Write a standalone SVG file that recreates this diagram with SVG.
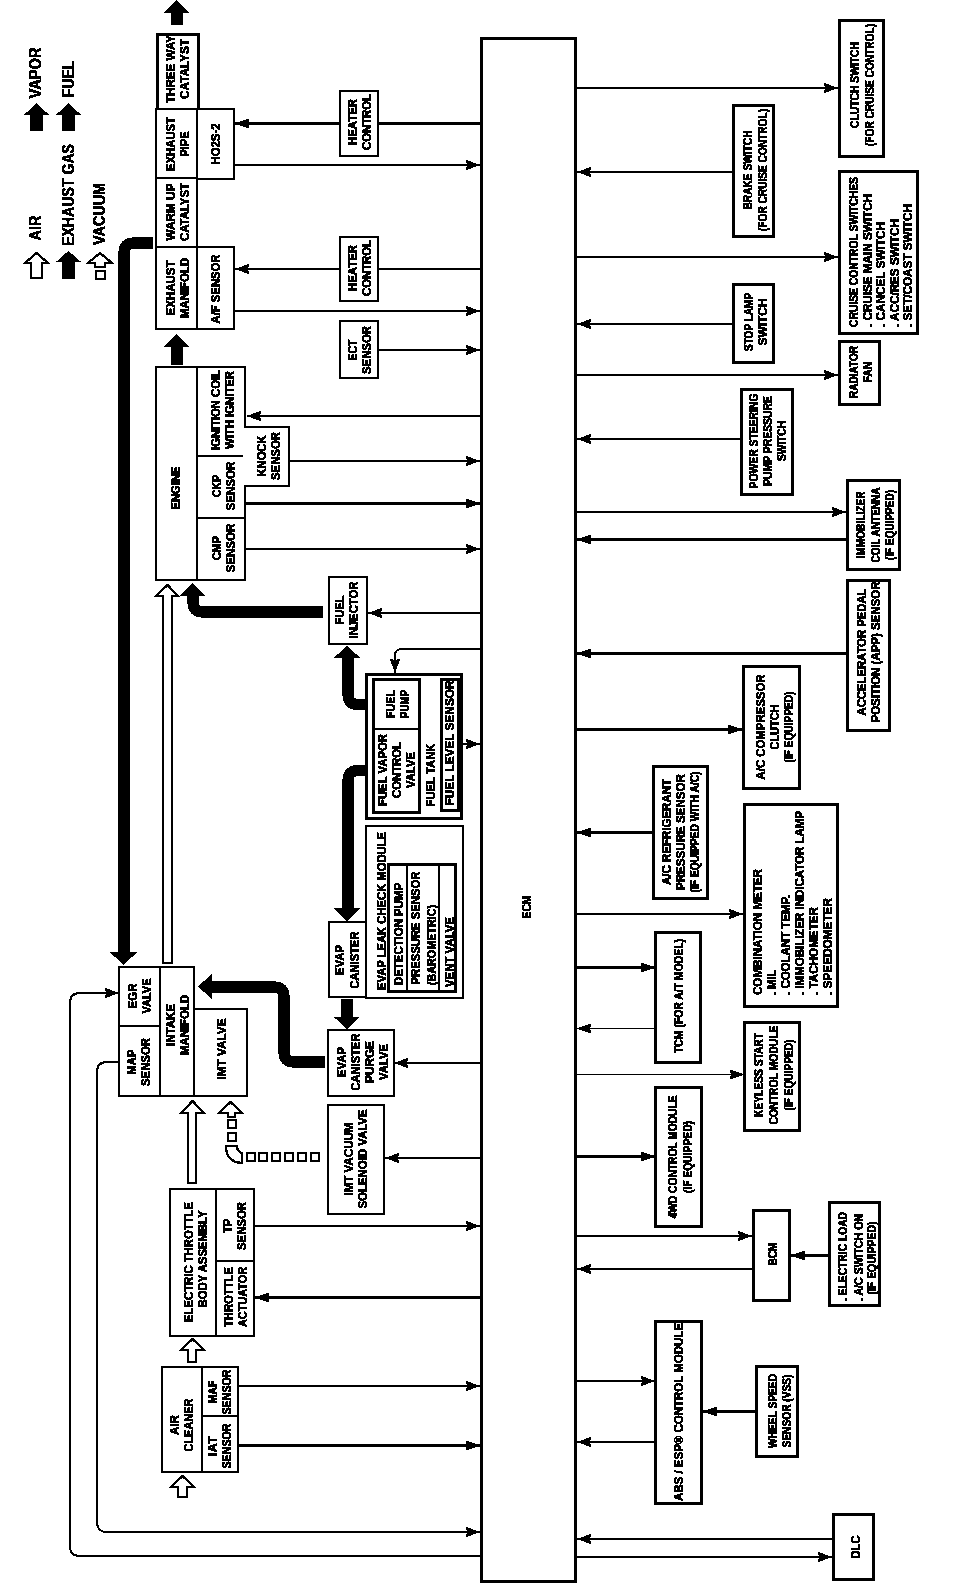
<svg xmlns="http://www.w3.org/2000/svg" width="960" height="1594" viewBox="0 0 960 1594">
<style>
text{font-family:"Liberation Sans",Arial,sans-serif;font-weight:700;font-size:12.5px;fill:#000;stroke:#000;stroke-width:.35px;text-anchor:middle}
.s{text-anchor:start}
.lg{font-size:16px}
.b{fill:#fff;stroke:#000;stroke-width:2;shape-rendering:crispEdges}
.b3{fill:#fff;stroke:#000;stroke-width:3;shape-rendering:crispEdges}
.d{fill:none;stroke:#000;stroke-width:1.5;shape-rendering:crispEdges}
.l1{fill:none;stroke:#000;stroke-width:1;shape-rendering:crispEdges}
.l2{fill:none;stroke:#000;stroke-width:2;shape-rendering:crispEdges}
.l3{fill:none;stroke:#000;stroke-width:3;shape-rendering:crispEdges}
.p{fill:none;stroke:#000;stroke-width:11}
.k{fill:#000;stroke:none}
.w{fill:#fff;stroke:#000;stroke-width:2}
.v{fill:#fff;stroke:#000;stroke-width:2}
</style>
<defs>
<marker id="a" markerUnits="userSpaceOnUse" markerWidth="14" markerHeight="11" refX="14" refY="5.500" orient="auto"><path d="M0 .5L14 5.500L0 10.500L1 5.500Z" fill="#000"/></marker>
<filter id="bw" x="0" y="0" width="100%" height="100%" color-interpolation-filters="sRGB"><feComponentTransfer><feFuncR type="discrete" tableValues="0 0 1"/><feFuncG type="discrete" tableValues="0 0 1"/><feFuncB type="discrete" tableValues="0 0 1"/></feComponentTransfer></filter>
</defs>
<g filter="url(#bw)">
<rect width="960" height="1594" fill="#fff"/>

<g id="connectors">
<path class="l3" marker-end="url(#a)" d="M480 123.500H235"/>
<path class="l2" marker-end="url(#a)" d="M234 165H480"/>
<path class="l2" marker-end="url(#a)" d="M480 269H235"/>
<path class="l2" marker-end="url(#a)" d="M234 311H480"/>
<path class="l2" marker-end="url(#a)" d="M378 350H480"/>
<path class="l2" marker-end="url(#a)" d="M480 416H247"/>
<path class="l2" marker-end="url(#a)" d="M290 461H480"/>
<path class="l3" marker-end="url(#a)" d="M245 503.500H480"/>
<path class="l2" marker-end="url(#a)" d="M245 549H480"/>
<path class="l2" marker-end="url(#a)" d="M480 613H368"/>
<path class="l2" marker-end="url(#a)" d="M480 649H402Q395 649 395 656V673"/>
<path class="l2" marker-end="url(#a)" d="M459 744H480"/>
<path class="l2" marker-end="url(#a)" d="M480 1063H394"/>
<path class="l2" marker-end="url(#a)" d="M480 1158H385"/>
<path class="l2" marker-end="url(#a)" d="M254 1226H480"/>
<path class="l3" marker-end="url(#a)" d="M480 1297.500H255"/>
<path class="l2" marker-end="url(#a)" d="M238 1386H480"/>
<path class="l3" marker-end="url(#a)" d="M238 1445.500H480"/>
<path class="l2" marker-end="url(#a)" d="M119 1062H107Q97 1062 97 1072V1522Q97 1532 107 1532H480"/>
<path class="l2" marker-end="url(#a)" d="M480 1556H80Q70 1556 70 1546V1003Q70 993 80 993H119"/>
<path class="l2" marker-end="url(#a)" d="M576 88H838"/>
<path class="l2" marker-end="url(#a)" d="M733 172H577"/>
<path class="l2" marker-end="url(#a)" d="M576 257H838"/>
<path class="l2" marker-end="url(#a)" d="M733 324H577"/>
<path class="l2" marker-end="url(#a)" d="M576 375H838"/>
<path class="l2" marker-end="url(#a)" d="M741 439H577"/>
<path class="l2" marker-end="url(#a)" d="M576 512H846"/>
<path class="l3" marker-end="url(#a)" d="M847 539.500H577"/>
<path class="l3" marker-end="url(#a)" d="M847 653.500H577"/>
<path class="l3" marker-end="url(#a)" d="M576 729.500H742"/>
<path class="l3" marker-end="url(#a)" d="M653 832.500H577"/>
<path class="l2" marker-end="url(#a)" d="M576 914H743"/>
<path class="l3" marker-end="url(#a)" d="M576 967.500H655"/>
<path class="l1" marker-end="url(#a)" d="M656 1028.500H577"/>
<path class="l1" marker-end="url(#a)" d="M576 1074.500H744"/>
<path class="l3" marker-end="url(#a)" d="M576 1156.500H655"/>
<path class="l2" marker-end="url(#a)" d="M576 1236H752"/>
<path class="l2" marker-end="url(#a)" d="M753 1269H577"/>
<path class="l3" marker-end="url(#a)" d="M829 1255.500H791"/>
<path class="l2" marker-end="url(#a)" d="M576 1381H655"/>
<path class="l2" marker-end="url(#a)" d="M655 1442H577"/>
<path class="l3" marker-end="url(#a)" d="M756 1411.500H703"/>
<path class="l2" marker-end="url(#a)" d="M833 1539H577"/>
<path class="l2" marker-end="url(#a)" d="M576 1557H832"/>
<path class="p" d="M153 243H134Q124 243 124 253V953"/>
<polygon class="k" points="110,952 137,952 123.500,965"/>
<path class="p" d="M323 612H203Q193 612 193 602V595"/>
<polygon class="k" points="180,596 205,596 192.500,583"/>
<path class="p" d="M372 704.500H358Q348 704.500 348 694V657"/>
<polygon class="k" points="334,658 360,658 347,645.500"/>
<path class="p" d="M372 770.500H358Q348 770.500 348 781V909"/>
<polygon class="k" points="334,908 360,908 347,921"/>
<polygon class="k" points="341,999 353,999 353,1017 359,1017 347,1029 334,1017 341,1017"/>
<path class="p" d="M325 1062H294Q284 1062 284 1052V997Q284 987 274 987H211"/>
<polygon class="k" points="212,974 212,999 198,986.500"/>
<polygon class="k" points="176.500,0 189,13 183,13 183,25 171,25 171,13 164,13"/>
<polygon class="k" points="176.500,334 189,347 183,347 183,365 171,365 171,347 164,347"/>
<polygon class="w" points="167.500,585 178,596 172,596 172,963 163,963 163,596 156,596"/>
<polygon class="w" points="192.500,1101 204,1113 196,1113 196,1183 188,1183 188,1113 181,1113"/>
<polygon class="w" points="192.500,1339 204,1350 196,1350 196,1362 188,1362 188,1350 181,1350"/>
<polygon class="w" points="182.500,1476 194,1487 187,1487 187,1497 178,1497 178,1487 171,1487"/>
<polygon class="v" points="230.500,1102 242,1113 235,1113 235,1117 228,1117 228,1113 219,1113"/>
<rect class="b" x="228" y="1120" width="8" height="8"/>
<rect class="b" x="228" y="1133" width="8" height="8"/>
<path class="v" d="M226 1146H237Q237 1152 242 1153V1163Q226 1162 226 1146Z"/>
<rect class="b" x="247" y="1153" width="8" height="8"/>
<rect class="b" x="259" y="1153" width="8" height="8"/>
<rect class="b" x="272" y="1153" width="8" height="8"/>
<rect class="b" x="285" y="1153" width="8" height="8"/>
<rect class="b" x="298" y="1153" width="8" height="8"/>
<rect class="b" x="311" y="1153" width="8" height="8"/>
</g>

<g id="legend">
<polygon class="w" points="36.500,253 48,263 42,263 42,278 31,278 31,263 25,263"/>
<text class="lg" textLength="25" lengthAdjust="spacingAndGlyphs" transform="translate(41,228) rotate(-90)">AIR</text>
<polygon class="k" points="68.500,251 81,262 75,262 75,279 62,279 62,262 56,262"/>
<text class="lg" textLength="102" lengthAdjust="spacingAndGlyphs" transform="translate(74,195) rotate(-90)">EXHAUST GAS</text>
<polygon class="v" points="100,253 112,263 105,263 105,267 95,267 95,263 88,263"/>
<rect class="b" x="96" y="271" width="9" height="8"/>
<text class="lg" textLength="62" lengthAdjust="spacingAndGlyphs" transform="translate(105,214) rotate(-90)">VACUUM</text>
<polygon class="k" points="36.500,103 49,115 43,115 43,131 30,131 30,115 24,115"/>
<text class="lg" textLength="51" lengthAdjust="spacingAndGlyphs" transform="translate(41,73) rotate(-90)">VAPOR</text>
<polygon class="k" points="68.500,103 81,115 75,115 75,131 62,131 62,115 56,115"/>
<text class="lg" textLength="37" lengthAdjust="spacingAndGlyphs" transform="translate(74,79) rotate(-90)">FUEL</text>
</g>

<g id="ecm"><rect class="b3" x="481" y="38" width="94.500" height="1543"/><text textLength="23" lengthAdjust="spacingAndGlyphs" transform="translate(531,907) rotate(-90)">ECM</text></g>

<g id="three-way"><rect class="b3" x="157" y="34" width="41" height="75"/><text transform="translate(175,69) rotate(-90)"><tspan x="0" y="0" textLength="68" lengthAdjust="spacingAndGlyphs">THREE WAY</tspan><tspan x="0" y="14" textLength="60" lengthAdjust="spacingAndGlyphs">CATALYST</tspan></text></g>
<g id="exhaust-pipe"><rect class="b" x="156" y="109" width="41" height="69"/><text transform="translate(175,144) rotate(-90)"><tspan x="0" y="0" textLength="54" lengthAdjust="spacingAndGlyphs">EXHAUST</tspan><tspan x="0" y="14" textLength="25" lengthAdjust="spacingAndGlyphs">PIPE</tspan></text></g>
<g id="ho2s"><rect class="b" x="197" y="109" width="37" height="70"/><text textLength="41" lengthAdjust="spacingAndGlyphs" transform="translate(220,144) rotate(-90)">HO2S-2</text></g>
<g id="warm-up"><rect class="b" x="156" y="178" width="41" height="69"/><text transform="translate(175,212) rotate(-90)"><tspan x="0" y="0" textLength="57" lengthAdjust="spacingAndGlyphs">WARM UP</tspan><tspan x="0" y="14" textLength="58" lengthAdjust="spacingAndGlyphs">CATALYST</tspan></text></g>
<g id="exhaust-manifold"><rect class="b" x="156" y="247" width="41" height="82"/><text transform="translate(175,288) rotate(-90)"><tspan x="0" y="0" textLength="55" lengthAdjust="spacingAndGlyphs">EXHAUST</tspan><tspan x="0" y="14" textLength="60" lengthAdjust="spacingAndGlyphs">MANIFOLD</tspan></text></g>
<g id="af-sensor"><rect class="b" x="197" y="247" width="37" height="82"/><text textLength="69" lengthAdjust="spacingAndGlyphs" transform="translate(220,289) rotate(-90)">A/F SENSOR</text></g>
<g id="heater1"><rect class="b" x="340" y="91" width="38" height="65"/><text transform="translate(357,122) rotate(-90)"><tspan x="0" y="0" textLength="46" lengthAdjust="spacingAndGlyphs">HEATER</tspan><tspan x="0" y="14" textLength="56" lengthAdjust="spacingAndGlyphs">CONTROL</tspan></text></g>
<g id="heater2"><rect class="b" x="340" y="237" width="38" height="64"/><text transform="translate(357,268) rotate(-90)"><tspan x="0" y="0" textLength="46" lengthAdjust="spacingAndGlyphs">HEATER</tspan><tspan x="0" y="14" textLength="56" lengthAdjust="spacingAndGlyphs">CONTROL</tspan></text></g>
<g id="ect"><rect class="b" x="340" y="321" width="38" height="57"/><text transform="translate(357,350) rotate(-90)"><tspan x="0" y="0" textLength="21" lengthAdjust="spacingAndGlyphs">ECT</tspan><tspan x="0" y="14" textLength="48" lengthAdjust="spacingAndGlyphs">SENSOR</tspan></text></g>

<g id="engine"><rect class="b" x="156" y="367" width="41" height="213"/><text textLength="43" lengthAdjust="spacingAndGlyphs" transform="translate(180,488) rotate(-90)">ENGINE</text></g>
<g id="ignition"><rect class="b" x="197" y="367" width="48" height="89"/><text transform="translate(220,410) rotate(-90)"><tspan x="0" y="0" textLength="80" lengthAdjust="spacingAndGlyphs">IGNITION COIL</tspan><tspan x="0" y="14" textLength="78" lengthAdjust="spacingAndGlyphs">WITH IGNITER</tspan></text></g>
<g id="ckp"><rect class="b" x="197" y="456" width="48" height="62"/><text transform="translate(221,486) rotate(-90)"><tspan x="0" y="0" textLength="22" lengthAdjust="spacingAndGlyphs">CKP</tspan><tspan x="0" y="14" textLength="49" lengthAdjust="spacingAndGlyphs">SENSOR</tspan></text></g>
<g id="cmp"><rect class="b" x="197" y="518" width="48" height="62"/><text transform="translate(221,548) rotate(-90)"><tspan x="0" y="0" textLength="24" lengthAdjust="spacingAndGlyphs">CMP</tspan><tspan x="0" y="14" textLength="49" lengthAdjust="spacingAndGlyphs">SENSOR</tspan></text></g>
<g id="knock"><path class="b" d="M244 427H289V486H244"/><rect x="243" y="428" width="4" height="57" fill="#fff"/><text transform="translate(266,456) rotate(-90)"><tspan x="0" y="0" textLength="41" lengthAdjust="spacingAndGlyphs">KNOCK</tspan><tspan x="0" y="14" textLength="48" lengthAdjust="spacingAndGlyphs">SENSOR</tspan></text></g>
<g id="fuel-injector"><rect class="b" x="329" y="577" width="38" height="67"/><text transform="translate(344,610) rotate(-90)"><tspan x="0" y="0" textLength="29" lengthAdjust="spacingAndGlyphs">FUEL</tspan><tspan x="0" y="14" textLength="57" lengthAdjust="spacingAndGlyphs">INJECTOR</tspan></text></g>

<g id="fuel-tank"><rect class="b3" x="366.500" y="674" width="95" height="144"/><rect class="b3" x="373.500" y="679" width="46" height="133"/><path class="d" d="M373 729H420"/>
<text transform="translate(395,704) rotate(-90)"><tspan x="0" y="0" textLength="28" lengthAdjust="spacingAndGlyphs">FUEL</tspan><tspan x="0" y="14" textLength="28" lengthAdjust="spacingAndGlyphs">PUMP</tspan></text>
<text transform="translate(387,770) rotate(-90)"><tspan x="0" y="0" textLength="72" lengthAdjust="spacingAndGlyphs">FUEL VAPOR</tspan><tspan x="0" y="14" textLength="56" lengthAdjust="spacingAndGlyphs">CONTROL</tspan><tspan x="0" y="28" textLength="36" lengthAdjust="spacingAndGlyphs">VALVE</tspan></text>
<text textLength="63" lengthAdjust="spacingAndGlyphs" transform="translate(435,775) rotate(-90)">FUEL TANK</text>
<rect class="b3" x="441.500" y="679" width="17" height="131"/><text textLength="125" lengthAdjust="spacingAndGlyphs" transform="translate(454,743) rotate(-90)">FUEL LEVEL SENSOR</text></g>

<g id="evap-module"><rect class="b" x="366" y="826" width="97" height="172"/><text textLength="158" lengthAdjust="spacingAndGlyphs" transform="translate(386,911) rotate(-90)">EVAP LEAK CHECK MODULE</text>
<rect class="b3" x="388.500" y="864" width="67" height="127"/><path class="l2" d="M407 863V991M439 863V991"/>
<text textLength="102" lengthAdjust="spacingAndGlyphs" transform="translate(403,934) rotate(-90)">DETECTION PUMP</text>
<text textLength="113" lengthAdjust="spacingAndGlyphs" transform="translate(420,928) rotate(-90)">PRESSURE SENSOR</text>
<text textLength="80" lengthAdjust="spacingAndGlyphs" transform="translate(436,945) rotate(-90)">(BAROMETRIC)</text>
<text textLength="70" lengthAdjust="spacingAndGlyphs" transform="translate(454,952) rotate(-90)">VENT VALVE</text></g>
<g id="evap-canister"><rect class="b" x="329" y="922" width="37" height="75"/><text transform="translate(344,960) rotate(-90)"><tspan x="0" y="0" textLength="30" lengthAdjust="spacingAndGlyphs">EVAP</tspan><tspan x="0" y="15" textLength="57" lengthAdjust="spacingAndGlyphs">CANISTER</tspan></text></g>
<g id="purge-valve"><rect class="b" x="328" y="1030" width="66" height="66"/><text transform="translate(346,1062) rotate(-90)"><tspan x="0" y="0" textLength="30" lengthAdjust="spacingAndGlyphs">EVAP</tspan><tspan x="0" y="14" textLength="57" lengthAdjust="spacingAndGlyphs">CANISTER</tspan><tspan x="0" y="28" textLength="42" lengthAdjust="spacingAndGlyphs">PURGE</tspan><tspan x="0" y="42" textLength="36" lengthAdjust="spacingAndGlyphs">VALVE</tspan></text></g>
<g id="solenoid"><rect class="b" x="328" y="1105" width="56" height="109"/><text transform="translate(353,1159) rotate(-90)"><tspan x="0" y="0" textLength="73" lengthAdjust="spacingAndGlyphs">IMT VACUUM</tspan><tspan x="0" y="14" textLength="99" lengthAdjust="spacingAndGlyphs">SOLENOID VALVE</tspan></text></g>

<g id="imt-valve"><rect class="b" x="194" y="1009" width="53" height="87"/><text textLength="61" lengthAdjust="spacingAndGlyphs" transform="translate(226,1049) rotate(-90)">IMT VALVE</text></g>
<g id="intake"><rect class="b" x="160" y="967" width="34" height="129"/><text transform="translate(175,1025) rotate(-90)"><tspan x="0" y="0" textLength="42" lengthAdjust="spacingAndGlyphs">INTAKE</tspan><tspan x="0" y="14" textLength="60" lengthAdjust="spacingAndGlyphs">MANIFOLD</tspan></text></g>
<g id="egr"><rect class="b" x="119" y="967" width="41" height="59"/><text transform="translate(137,996) rotate(-90)"><tspan x="0" y="0" textLength="25" lengthAdjust="spacingAndGlyphs">EGR</tspan><tspan x="0" y="14" textLength="35" lengthAdjust="spacingAndGlyphs">VALVE</tspan></text></g>
<g id="map"><rect class="b" x="119" y="1026" width="41" height="70"/><text transform="translate(136,1062) rotate(-90)"><tspan x="0" y="0" textLength="25" lengthAdjust="spacingAndGlyphs">MAP</tspan><tspan x="0" y="14" textLength="48" lengthAdjust="spacingAndGlyphs">SENSOR</tspan></text></g>

<g id="throttle-body"><rect class="b" x="170" y="1189" width="46" height="147"/><text textLength="120" lengthAdjust="spacingAndGlyphs" transform="translate(193,1262) rotate(-90)">ELECTRIC THROTTLE</text><text textLength="97" lengthAdjust="spacingAndGlyphs" transform="translate(207,1259) rotate(-90)">BODY ASSEMBLY</text></g>
<g id="tp"><rect class="b" x="216" y="1189" width="38" height="72"/><text transform="translate(232,1226) rotate(-90)"><tspan x="0" y="0" textLength="14" lengthAdjust="spacingAndGlyphs">TP</tspan><tspan x="0" y="14" textLength="48" lengthAdjust="spacingAndGlyphs">SENSOR</tspan></text></g>
<g id="actuator"><rect class="b" x="216" y="1261" width="38" height="75"/><text transform="translate(233,1297) rotate(-90)"><tspan x="0" y="0" textLength="60" lengthAdjust="spacingAndGlyphs">THROTTLE</tspan><tspan x="0" y="14" textLength="60" lengthAdjust="spacingAndGlyphs">ACTUATOR</tspan></text></g>
<g id="air-cleaner"><rect class="b" x="162" y="1367" width="40" height="105"/><text transform="translate(179,1425) rotate(-90)"><tspan x="0" y="0" textLength="20" lengthAdjust="spacingAndGlyphs">AIR</tspan><tspan x="0" y="14" textLength="53" lengthAdjust="spacingAndGlyphs">CLEANER</tspan></text></g>
<g id="maf"><rect class="b" x="202" y="1367" width="36" height="49"/><text transform="translate(217,1392) rotate(-90)"><tspan x="0" y="0" textLength="23" lengthAdjust="spacingAndGlyphs">MAF</tspan><tspan x="0" y="14" textLength="45" lengthAdjust="spacingAndGlyphs">SENSOR</tspan></text></g>
<g id="iat"><rect class="b" x="202" y="1416" width="36" height="56"/><text transform="translate(217,1446) rotate(-90)"><tspan x="0" y="0" textLength="20" lengthAdjust="spacingAndGlyphs">IAT</tspan><tspan x="0" y="14" textLength="45" lengthAdjust="spacingAndGlyphs">SENSOR</tspan></text></g>

<g id="clutch"><rect class="b3" x="839.500" y="20" width="44" height="136"/><text transform="translate(859,85) rotate(-90)"><tspan x="0" y="0" textLength="86" lengthAdjust="spacingAndGlyphs">CLUTCH SWITCH</tspan><tspan x="0" y="15" textLength="122" lengthAdjust="spacingAndGlyphs">(FOR CRUISE CONTROL)</tspan></text></g>
<g id="brake"><rect class="b3" x="733.500" y="105" width="40" height="131"/><text transform="translate(752,170) rotate(-90)"><tspan x="0" y="0" textLength="79" lengthAdjust="spacingAndGlyphs">BRAKE SWITCH</tspan><tspan x="0" y="15" textLength="122" lengthAdjust="spacingAndGlyphs">(FOR CRUISE CONTROL)</tspan></text></g>
<g id="cruise"><rect class="b3" x="839.500" y="171" width="78" height="162"/>
<text class="s" transform="translate(858,327) rotate(-90)"><tspan x="0" y="0" textLength="150" lengthAdjust="spacingAndGlyphs">CRUISE CONTROL SWITCHES</tspan><tspan x="0" y="13.500" textLength="133" lengthAdjust="spacingAndGlyphs">. CRUISE MAIN SWITCH</tspan><tspan x="0" y="27" textLength="105" lengthAdjust="spacingAndGlyphs">. CANCEL SWITCH</tspan><tspan x="0" y="40.500" textLength="108" lengthAdjust="spacingAndGlyphs">. ACC/RES SWITCH</tspan><tspan x="0" y="54" textLength="123" lengthAdjust="spacingAndGlyphs">. SET/COAST SWITCH</tspan></text></g>
<g id="stop-lamp"><rect class="b3" x="733.500" y="284" width="40" height="78"/><text transform="translate(753,322) rotate(-90)"><tspan x="0" y="0" textLength="58" lengthAdjust="spacingAndGlyphs">STOP LAMP</tspan><tspan x="0" y="14" textLength="47" lengthAdjust="spacingAndGlyphs">SWITCH</tspan></text></g>
<g id="radiator"><rect class="b3" x="839.500" y="341" width="40" height="63"/><text transform="translate(858,372) rotate(-90)"><tspan x="0" y="0" textLength="52" lengthAdjust="spacingAndGlyphs">RADIATOR</tspan><tspan x="0" y="14" textLength="20" lengthAdjust="spacingAndGlyphs">FAN</tspan></text></g>
<g id="power-steering"><rect class="b3" x="741.500" y="389" width="51" height="105"/><text transform="translate(758,441) rotate(-90)"><tspan x="0" y="0" textLength="95" lengthAdjust="spacingAndGlyphs">POWER STEERING</tspan><tspan x="0" y="14" textLength="90" lengthAdjust="spacingAndGlyphs">PUMP PRESSURE</tspan><tspan x="0" y="28" textLength="40" lengthAdjust="spacingAndGlyphs">SWITCH</tspan></text></g>
<g id="immobilizer"><rect class="b3" x="847.500" y="480" width="52" height="89"/><text transform="translate(865,525) rotate(-90)"><tspan x="0" y="0" textLength="67" lengthAdjust="spacingAndGlyphs">IMMOBILIZER</tspan><tspan x="0" y="14.500" textLength="75" lengthAdjust="spacingAndGlyphs">COIL ANTENNA</tspan><tspan x="0" y="29" textLength="70" lengthAdjust="spacingAndGlyphs">(IF EQUIPPED)</tspan></text></g>
<g id="app"><rect class="b3" x="847.500" y="580" width="42" height="150"/><text transform="translate(866,652) rotate(-90)"><tspan x="0" y="0" textLength="127" lengthAdjust="spacingAndGlyphs">ACCELERATOR PEDAL</tspan><tspan x="0" y="14" textLength="141" lengthAdjust="spacingAndGlyphs">POSITION (APP) SENSOR</tspan></text></g>
<g id="ac-comp"><rect class="b3" x="743.500" y="666" width="56" height="122"/><text transform="translate(765,727) rotate(-90)"><tspan x="0" y="0" textLength="105" lengthAdjust="spacingAndGlyphs">A/C COMPRESSOR</tspan><tspan x="0" y="14" textLength="45" lengthAdjust="spacingAndGlyphs">CLUTCH</tspan><tspan x="0" y="28" textLength="71" lengthAdjust="spacingAndGlyphs">(IF EQUIPPED)</tspan></text></g>
<g id="ac-ref"><rect class="b3" x="653.500" y="766" width="54" height="132"/><text transform="translate(671,832) rotate(-90)"><tspan x="0" y="0" textLength="106" lengthAdjust="spacingAndGlyphs">A/C REFRIGERANT</tspan><tspan x="0" y="14" textLength="116" lengthAdjust="spacingAndGlyphs">PRESSURE SENSOR</tspan><tspan x="0" y="28" textLength="121" lengthAdjust="spacingAndGlyphs">(IF EQUIPPED WITH A/C)</tspan></text></g>
<g id="combination"><rect class="b3" x="744.500" y="804" width="93" height="202"/>
<text class="s" transform="translate(762,995) rotate(-90)"><tspan x="0" y="0" textLength="126" lengthAdjust="spacingAndGlyphs">COMBINATION METER</tspan><tspan x="0" y="14" textLength="25" lengthAdjust="spacingAndGlyphs">. MIL</tspan><tspan x="0" y="28" textLength="100" lengthAdjust="spacingAndGlyphs">. COOLANT TEMP.</tspan><tspan x="0" y="42" textLength="184" lengthAdjust="spacingAndGlyphs">. IMMOBILIZER INDICATOR LAMP</tspan><tspan x="0" y="56" textLength="88" lengthAdjust="spacingAndGlyphs">. TACHOMETER</tspan><tspan x="0" y="70" textLength="97" lengthAdjust="spacingAndGlyphs">. SPEEDOMETER</tspan></text></g>
<g id="tcm"><rect class="b3" x="655.500" y="932" width="45" height="130"/><text textLength="114" lengthAdjust="spacingAndGlyphs" transform="translate(683,996) rotate(-90)">TCM (FOR A/T MODEL)</text></g>
<g id="keyless"><rect class="b3" x="744.500" y="1022" width="55" height="108"/><text transform="translate(763,1075) rotate(-90)"><tspan x="0" y="0" textLength="84" lengthAdjust="spacingAndGlyphs">KEYLESS START</tspan><tspan x="0" y="15" textLength="99" lengthAdjust="spacingAndGlyphs">CONTROL MODULE</tspan><tspan x="0" y="30" textLength="71" lengthAdjust="spacingAndGlyphs">(IF EQUIPPED)</tspan></text></g>
<g id="fwd"><rect class="b3" x="655.500" y="1087" width="46" height="139"/><text transform="translate(677,1157) rotate(-90)"><tspan x="0" y="0" textLength="123" lengthAdjust="spacingAndGlyphs">4WD CONTROL MODULE</tspan><tspan x="0" y="15" textLength="72" lengthAdjust="spacingAndGlyphs">(IF EQUIPPED)</tspan></text></g>
<g id="bcm"><rect class="b3" x="753.500" y="1210" width="36" height="90"/><text textLength="23" lengthAdjust="spacingAndGlyphs" transform="translate(777,1254) rotate(-90)">BCM</text></g>
<g id="electric-load"><rect class="b3" x="829.500" y="1202" width="50" height="103"/>
<text class="s" transform="translate(847,1301) rotate(-90)"><tspan x="0" y="0" textLength="89" lengthAdjust="spacingAndGlyphs">. ELECTRIC LOAD</tspan><tspan x="0" y="16" textLength="87" lengthAdjust="spacingAndGlyphs">. A/C SWITCH ON</tspan></text><text textLength="73" lengthAdjust="spacingAndGlyphs" transform="translate(875.500,1258) rotate(-90)">(IF EQUIPPED)</text></g>
<g id="abs"><rect class="b3" x="655.500" y="1321" width="46" height="182"/><text textLength="178" lengthAdjust="spacingAndGlyphs" transform="translate(683,1412) rotate(-90)">ABS / ESP® CONTROL MODULE</text></g>
<g id="wheel-speed"><rect class="b3" x="756.500" y="1366" width="41" height="90"/><text transform="translate(777,1411) rotate(-90)"><tspan x="0" y="0" textLength="74" lengthAdjust="spacingAndGlyphs">WHEEL SPEED</tspan><tspan x="0" y="14" textLength="73" lengthAdjust="spacingAndGlyphs">SENSOR (VSS)</tspan></text></g>
<g id="dlc"><rect class="b3" x="833.500" y="1514" width="40" height="65"/><text textLength="23" lengthAdjust="spacingAndGlyphs" transform="translate(860,1547) rotate(-90)">DLC</text></g>
</g>
</svg>
